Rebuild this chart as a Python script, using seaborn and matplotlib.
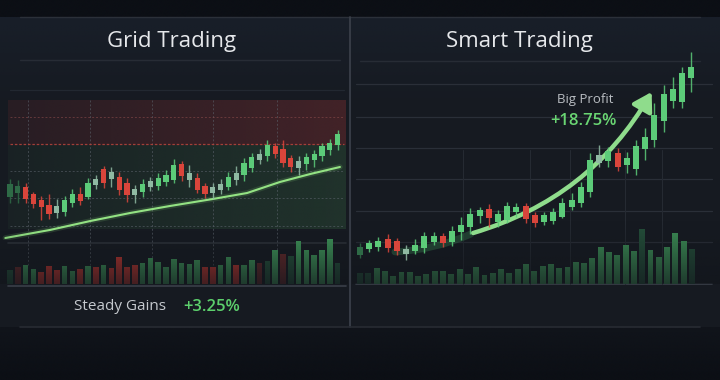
import matplotlib
matplotlib.use("Agg")
import matplotlib.pyplot as plt
import numpy as np
import pandas as pd
import seaborn as sns

# ---- Grid Trading (left) ----
grid_open = [88.0, 89.2, 90.8, 88.7, 87.0, 85.6, 83.0, 83.4, 86.0, 88.9, 87.8, 91.5, 96.2, 93.3, 93.8,
             92.0, 88.4, 89.3, 90.8, 91.3, 92.4, 93.0, 97.8, 93.0, 93.6, 91.2, 89.2, 90.0, 91.0, 93.0,
             94.5, 96.7, 99.1, 100.2, 103.2, 102.2, 99.6, 96.6, 97.8, 99.0, 100.3, 102.0, 103.5]
grid_close = [91.7, 91.2, 87.4, 85.7, 84.8, 82.7, 85.1, 87.0, 88.9, 86.6, 92.1, 93.2, 92.0, 95.5, 90.0,
              88.4, 90.4, 91.8, 92.7, 93.6, 94.5, 97.6, 94.2, 95.2, 90.1, 88.9, 91.0, 91.8, 93.8, 95.0,
              98.0, 99.8, 100.8, 103.5, 100.8, 98.0, 97.0, 98.8, 100.0, 100.8, 103.2, 104.0, 106.8]
grid_high = [93.2, 93.0, 92.0, 89.5, 88.2, 88.8, 87.2, 88.2, 90.4, 91.0, 93.5, 94.5, 97.2, 96.8, 95.5,
             93.5, 91.5, 93.2, 94.0, 95.0, 96.0, 99.2, 98.8, 97.5, 95.0, 92.2, 92.0, 93.2, 95.5, 97.2,
             99.5, 101.2, 102.2, 105.0, 104.2, 105.0, 100.5, 100.2, 101.0, 102.0, 104.0, 105.2, 108.0]
grid_low = [86.0, 86.0, 86.0, 84.5, 81.0, 81.2, 81.5, 82.2, 84.8, 85.5, 87.2, 90.2, 90.5, 91.0, 88.5,
            86.5, 86.0, 88.0, 89.8, 90.0, 91.2, 92.0, 92.8, 91.0, 89.0, 87.5, 87.2, 88.8, 90.0, 91.5,
            92.8, 95.5, 97.8, 98.6, 99.5, 97.0, 95.5, 94.5, 96.0, 97.0, 98.8, 100.5, 102.0]
grid_kind = list("ddrrrrnggrgnrnrrngngggrnrrnngnggngrrrnggggg")
grid_volume = [43, 51, 56, 46, 37, 55, 43, 54, 39, 46, 55, 52, 58, 48, 82, 50, 58, 64, 79, 65, 51, 75,
               62, 59, 73, 50, 52, 58, 81, 57, 56, 72, 62, 69, 103, 91, 85, 128, 103, 88, 101, 135, 63]
grid_vol_kind = ["dg", "dr", "g", "g", "r", "r", "r", "g", "g", "r", "g", "r", "g", "r", "r", "r", "r",
                 "g", "g", "g", "g", "g", "g", "g", "g", "r", "r", "g", "g", "r", "g", "g", "dr", "dg",
                 "g", "dr", "dg", "g", "g", "g", "g", "g", "dg"]
trend_x = [-0.6, 5.1, 10.3, 15.4, 20.5, 26.0, 30.4, 34.6, 38.5, 42.3]
trend_y = [75.6, 78.0, 80.7, 83.1, 85.2, 87.3, 89.1, 92.4, 94.8, 96.9]

# ---- Smart Trading (right) ----
smart_open = [102.5, 105.5, 106.7, 110.5, 109.7, 103.0, 104.7, 105.8, 109.0, 112.0, 108.8, 113.8, 116.7,
              122.2, 125.5, 119.0, 120.0, 123.8, 127.0, 122.5, 119.2, 119.5, 121.7, 126.7, 128.7, 134.2,
              148.3, 149.7, 153.3, 147.5, 145.5, 155.3, 160.0, 169.5, 179.7, 179.2, 190.8]
smart_close = [106.7, 108.3, 109.5, 106.2, 104.3, 105.7, 107.5, 112.0, 112.0, 108.3, 114.7, 117.5, 123.0,
               124.8, 120.8, 122.8, 127.0, 126.7, 120.5, 118.3, 122.5, 124.0, 128.5, 130.0, 136.3, 150.0,
               152.5, 154.7, 146.3, 150.8, 157.0, 161.3, 172.5, 182.8, 185.5, 193.7, 196.7]
smart_high = [108.3, 110.0, 111.7, 113.0, 110.8, 107.5, 110.3, 114.2, 114.2, 113.7, 117.0, 121.3, 125.8,
              126.7, 128.0, 125.0, 129.2, 128.3, 128.3, 124.2, 124.2, 125.8, 130.8, 133.3, 139.2, 153.3,
              157.5, 156.7, 155.8, 154.2, 160.0, 165.8, 178.3, 187.5, 191.7, 196.7, 204.2]
smart_low = [100.8, 104.2, 104.7, 104.2, 102.5, 100.0, 103.0, 103.7, 107.5, 106.7, 107.0, 110.0, 112.8,
             118.3, 116.7, 116.7, 118.3, 121.7, 118.3, 116.3, 117.5, 118.0, 120.8, 125.0, 126.7, 131.7,
             146.7, 146.7, 144.7, 143.3, 142.5, 150.0, 156.7, 164.2, 175.8, 175.8, 184.2]
smart_kind = list("dggrrngggrggggrgggrrggggggngrgggggggg")
smart_volume = [33, 33, 48, 38, 25, 35, 36, 25, 31, 40, 38, 31, 45, 30, 51, 28, 33, 44, 33, 45, 60, 40,
                54, 60, 48, 51, 65, 63, 77, 111, 97, 86, 117, 99, 166, 102, 80, 112, 153, 129, 105]
smart_vol_kind = ["dg", "dg"] + ["g"] * 32 + ["dg", "g", "g", "g", "g", "g", "dg"]

BG = "#161a21"
CANDLE = {"g": "#5ccb79", "r": "#d9453b", "n": "#8fb9a2", "d": "#2e6a46"}
VOLPAL = {"g": "#3d9157", "r": "#b8342e", "dg": "#24503a", "dr": "#622829"}

sns.set_theme(style="dark")
plt.rcParams["font.family"] = ["Open Sans", "DejaVu Sans"]

fig = plt.figure(figsize=(7.2, 3.8), dpi=100, facecolor=BG)


def px_axes(x0, y0, x1, y1, z=2):
    ax = fig.add_axes([x0 / 720, 1 - y1 / 380, (x1 - x0) / 720, (y1 - y0) / 380])
    ax.set_facecolor("none")
    ax.set_zorder(z)
    ax.axis("off")
    return ax


# background / decoration layer in pixel coordinates
bg = px_axes(0, 0, 720, 380, z=0)


def band(x0, x1, y0, y1, rgb, a_left, a_right, vertical=False):
    grad = np.linspace(a_left, a_right, 200)
    img = np.zeros((200, 200, 4))
    img[..., :3] = matplotlib.colors.to_rgb(rgb)
    img[..., 3] = grad[:, None] if vertical else grad[None, :]
    bg.imshow(img, extent=(x0, x1, y1, y0), aspect="auto", zorder=1, interpolation="bilinear")


band(0, 720, 0, 17, "#0c0f15", 1.0, 1.0)
band(0, 720, 327, 380, "#0c0f15", 0.5, 1.0, vertical=True)
band(0, 720, 17, 110, "#1b2330", 0.55, 0.0, vertical=True)
band(8, 346, 100, 145, "#4a2429", 0.35, 0.85)
band(8, 346, 145, 229, "#21342c", 0.3, 0.95)
bg.set_xlim(0, 720)
bg.set_ylim(380, 0)

bg.plot([20, 700], [17, 17], color="#2b3039", lw=1, zorder=2)
bg.plot([350, 350], [17, 327], color="#3a3f49", lw=1.3, zorder=2)
bg.plot([20, 340], [60, 60], color="#272c35", lw=1, zorder=2)
bg.plot([360, 700], [61, 61], color="#272c35", lw=1, zorder=2)
bg.plot([10, 344], [90, 90], color="#222831", lw=0.9, zorder=2)
bg.plot([8, 346], [243, 243], color="#2c3139", lw=1.2, zorder=2)
bg.plot([8, 346], [286, 286], color="#3a3f48", lw=1.2, zorder=2)
bg.plot([356, 712], [284, 284], color="#3a3f48", lw=1.2, zorder=2)
bg.plot([20, 700], [327, 327], color="#272b33", lw=1.2, zorder=2)
for gy in [84, 117, 148, 179, 211, 242]:
    bg.plot([356, 712], [gy, gy], color="#2a2f38", lw=0.9, zorder=2)
for gx in [463, 530, 570, 625, 662]:
    bg.plot([gx, gx], [150, 284], color="#252a32", lw=0.8, zorder=2)
for gx in [28, 90, 152, 213, 277]:
    bg.plot([gx, gx], [100, 265], color="#5a616a", lw=0.7, ls=(0, (2, 2)), alpha=0.6, zorder=2)
for gy in [171, 198, 226]:
    bg.plot([10, 344], [gy, gy], color="#5a616a", lw=0.7, ls=(0, (2, 2)), alpha=0.6, zorder=2)
bg.plot([10, 344], [117, 117], color="#8a4a4a", lw=0.7, ls=(0, (2, 2)), alpha=0.6, zorder=2)
bg.plot([10, 344], [144, 144], color="#b8463d", lw=0.9, ls=(0, (2, 1.5)), alpha=0.85, zorder=2)

# titles and labels
bg.text(172, 42, "Grid Trading", color="#e6e8eb", fontsize=16, ha="center", va="center", zorder=5)
bg.text(519, 42, "Smart Trading", color="#e6e8eb", fontsize=16, ha="center", va="center", zorder=5)
bg.text(120, 307, "Steady Gains", color="#c5c9ce", fontsize=11, ha="center", va="center", zorder=5)
bg.text(212, 307, "+3.25%", color="#5ccf6c", fontsize=12, fontweight="semibold", ha="center",
        va="center", zorder=5)
bg.text(585, 100, "Big Profit", color="#b9bdc2", fontsize=9.5, ha="center", va="center", zorder=5)
bg.text(583, 121, "+18.75%", color="#6ad673", fontsize=12, fontweight="semibold", ha="center",
        va="center", zorder=5)


def candles(ax, o, h, l, c, kind, width):
    df = pd.DataFrame({"open": o, "high": h, "low": l, "close": c, "kind": kind})
    df["x"] = np.arange(len(df))
    df["color"] = df["kind"].map(CANDLE)
    ax.vlines(df["x"], df["low"], df["high"], colors=df["color"], lw=1, alpha=0.85, zorder=3)
    bottom = df[["open", "close"]].min(axis=1)
    height = (df["close"] - df["open"]).abs()
    ax.bar(df["x"], height, bottom=bottom, width=width, color=df["color"], zorder=4, lw=0)


def volumes(ax, vol, kind, width, xlim, ylim):
    df = pd.DataFrame({"x": np.arange(len(vol)), "vol": vol, "kind": kind})
    sns.barplot(data=df, x="x", y="vol", hue="kind", palette=VOLPAL, native_scale=True, dodge=False,
                width=width, saturation=1, legend=False, ax=ax, zorder=3,
                edgecolor="none", linewidth=0)
    ax.axis("off")
    # fade bar bottoms into the background
    img = np.zeros((100, 2, 4))
    img[..., :3] = matplotlib.colors.to_rgb("#12161c")
    img[..., 3] = np.linspace(0.0, 0.7, 100)[:, None]
    ax.imshow(img, extent=(xlim[0], xlim[1], ylim[0], ylim[1]), aspect="auto", zorder=5, origin="upper")
    ax.set_xlim(*xlim)
    ax.set_ylim(*ylim)


# left price
axl = px_axes(0, 95, 348, 240, z=3)
candles(axl, grid_open, grid_high, grid_low, grid_close, grid_kind, 0.68)
sns.lineplot(x=trend_x, y=trend_y, ax=axl, color="#8ee07e", lw=4, alpha=0.15, zorder=2)
sns.lineplot(x=trend_x, y=trend_y, ax=axl, color="#93e283", lw=1.5, zorder=2)
axl.set_xlim(-10 / 7.8, 338 / 7.8)
axl.set_ylim(75, 118.5)
axl.axis("off")

# left volume
axlv = px_axes(0, 230, 348, 284, z=3)
volumes(axlv, grid_volume, grid_vol_kind, 0.72, (-10 / 7.8, 338 / 7.8), (0, 162))

# right volume
axrv = px_axes(352, 220, 720, 284, z=3)
volumes(axrv, smart_volume, smart_vol_kind, 0.72, (-8 / 8.3, 360 / 8.3), (0, 192))

# right price
axr = px_axes(352, 40, 720, 270, z=4)
candles(axr, smart_open, smart_high, smart_low, smart_close, smart_kind, 0.66)
axr.set_xlim(-8 / 9.2, 360 / 9.2)
axr.set_ylim(95, 210)
axr.annotate("", xy=(3.5, 104), xytext=(12.3, 113.5),
             arrowprops=dict(arrowstyle="-", color="#2f6b45", lw=5, alpha=0.45,
                             connectionstyle="arc3,rad=-0.1"), zorder=2)
axr.annotate("", xy=(31.7, 184), xytext=(12.3, 113.5),
             arrowprops=dict(arrowstyle="-|>,head_length=0.9,head_width=0.55", color="#8fdc8c", lw=3.2,
                             connectionstyle="arc3,rad=0.2", shrinkA=0, shrinkB=0), zorder=2)
axr.axis("off")

fig.savefig("out.png", dpi=100, facecolor=BG)
